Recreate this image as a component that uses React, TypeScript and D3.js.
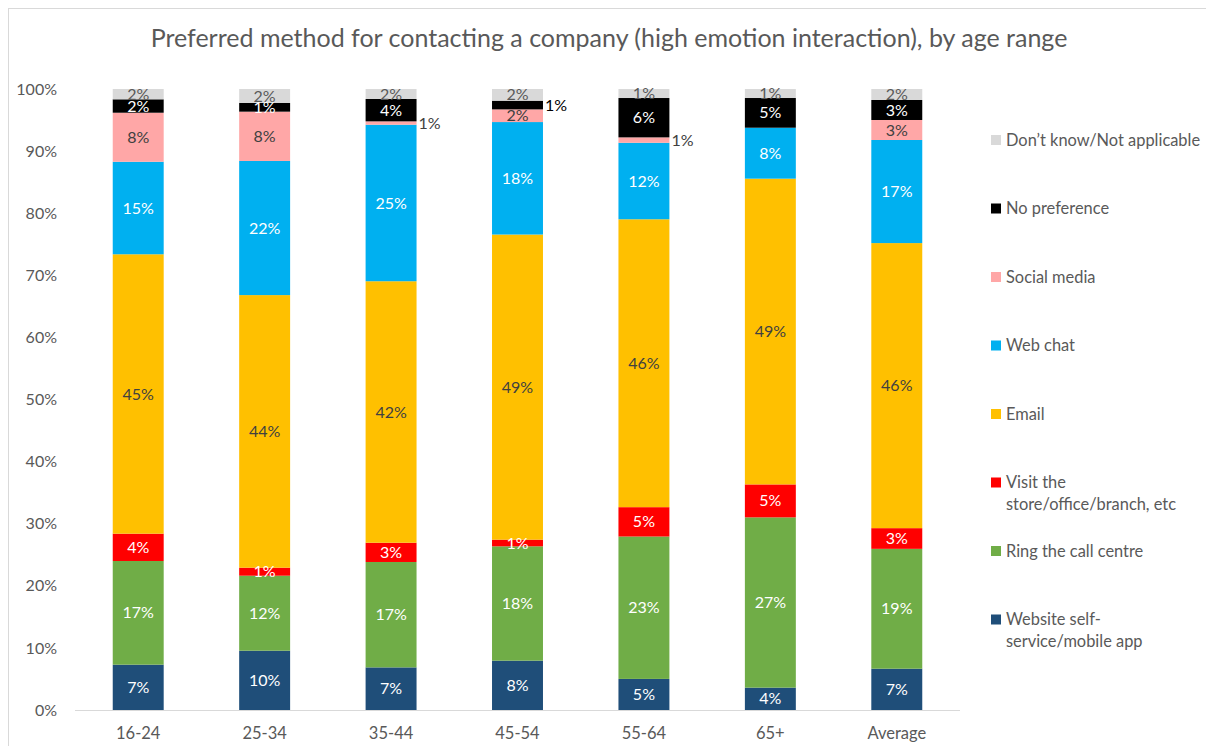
import React, { useEffect, useRef } from "react";
import * as d3 from "d3";

// age ranges along the x axis
const ageGroups = ["16-24", "25-34", "35-44", "45-54", "55-64", "65+", "Average"];

// series, bottom of the stack to top (percent of respondents)
const websiteSelfService = [7.3, 9.55, 6.86, 7.94, 5.0, 3.6, 6.65];
const ringCallCentre = [16.7, 12.08, 16.97, 18.4, 22.9, 27.4, 19.3];
const visitStore = [4.4, 1.29, 3.1, 1.07, 4.72, 5.3, 3.33];
const email = [45.0, 43.9, 42.1, 49.1, 46.3, 49.2, 45.9];
const webChat = [14.9, 21.6, 25.2, 18.1, 12.3, 8.2, 16.6];
const socialMedia = [7.9, 7.94, 0.54, 2.04, 0.87, 0, 3.22];
const noPreference = [2.16, 1.4, 3.6, 1.4, 6.33, 4.78, 3.22];
const dontKnow = [1.66, 2.25, 1.61, 1.88, 1.45, 1.45, 1.77];

const seriesNames = [
  "Website self-service/mobile app",
  "Ring the call centre",
  "Visit the store/office/branch, etc",
  "Email",
  "Web chat",
  "Social media",
  "No preference",
  "Don’t know/Not applicable",
];
const seriesValues = [websiteSelfService, ringCallCentre, visitStore, email, webChat, socialMedia, noPreference, dontKnow];

// legend text lines, top to bottom as shown
const legendLines: Record<string, string[]> = {
  "Don’t know/Not applicable": ["Don’t know/Not applicable"],
  "No preference": ["No preference"],
  "Social media": ["Social media"],
  "Web chat": ["Web chat"],
  "Email": ["Email"],
  "Visit the store/office/branch, etc": ["Visit the", "store/office/branch, etc"],
  "Ring the call centre": ["Ring the call centre"],
  "Website self-service/mobile app": ["Website self-", "service/mobile app"],
};

const yTicks = [0, 0.1, 0.2, 0.3, 0.4, 0.5, 0.6, 0.7, 0.8, 0.9, 1];

const colors = ["#1F4E79", "#70AD47", "#FF0000", "#FFC000", "#00B0F0", "#FFA7A7", "#000000", "#D9D9D9"];
const labelColors = ["#fff", "#fff", "#fff", "#404040", "#fff", "#404040", "#fff", "#595959"];

// labels that sit to the right of the bar (too thin to fit inside)
const outside = [
  { series: "Social media", group: "35-44", color: "#404040" },
  { series: "No preference", group: "45-54", color: "#000" },
  { series: "Social media", group: "55-64", color: "#404040" },
];

const FONT = "Lato, 'Open Sans', sans-serif";

export default function App() {
  const ref = useRef<SVGSVGElement>(null);

  useEffect(() => {
    const svg = d3.select(ref.current);
    svg.selectAll("*").remove();

    const left = 75, right = 960, top = 89, bottom = 710;

    const rows = ageGroups.map((g, i) => {
      const r: any = { group: g };
      seriesNames.forEach((s, j) => (r[s] = seriesValues[j][i]));
      return r;
    });

    const stacked = d3.stack().keys(seriesNames).offset(d3.stackOffsetExpand)(rows);

    const x = d3.scaleBand().domain(ageGroups).range([left, right]).paddingInner(0.597).paddingOuter(0.2985);
    const y = d3.scaleLinear().domain([0, 1]).range([bottom, top]);

    // chart frame
    svg.append("rect")
      .attr("x", 8.5).attr("y", 8.5)
      .attr("width", 1400).attr("height", 1000)
      .attr("fill", "white").attr("stroke", "#D9D9D9");

    svg.append("text")
      .attr("x", 609).attr("y", 47)
      .attr("text-anchor", "middle")
      .attr("font-size", 25).attr("fill", "#595959")
      .text("Preferred method for contacting a company (high emotion interaction), by age range");

    // y axis labels
    svg.append("g").selectAll("text")
      .data(yTicks).join("text")
      .attr("x", 57).attr("y", d => y(d))
      .attr("dy", "0.35em")
      .attr("text-anchor", "end")
      .attr("font-size", 16).attr("fill", "#595959")
      .text(d => d3.format(".0%")(d));

    // baseline
    svg.append("line")
      .attr("x1", left).attr("x2", right)
      .attr("y1", bottom + 0.5).attr("y2", bottom + 0.5)
      .attr("stroke", "#D9D9D9");

    // x axis labels
    svg.append("g").selectAll("text")
      .data(ageGroups).join("text")
      .attr("x", d => x(d)! + x.bandwidth() / 2).attr("y", 733)
      .attr("dy", "0.35em")
      .attr("text-anchor", "middle")
      .attr("font-size", 16.5).attr("fill", "#595959")
      .text(d => d);

    const layers = svg.append("g").selectAll("g")
      .data(stacked).join("g")
      .attr("fill", (d, i) => colors[i]);

    layers.selectAll("rect")
      .data(d => d.map(p => ({ p, key: d.key })))
      .join("rect")
      .attr("x", d => x(d.p.data.group as any)!)
      .attr("width", x.bandwidth())
      .attr("y", d => y(d.p[1]))
      .attr("height", d => y(d.p[0]) - y(d.p[1]));

    // data labels
    const labels = svg.append("g").attr("font-size", 16);
    stacked.forEach((layer, i) => {
      layer.forEach((p, k) => {
        const v = seriesValues[i][k];
        if (!v) return;
        const group = ageGroups[k];
        const cy = (y(p[0]) + y(p[1])) / 2;
        const out = outside.find(o => o.series === layer.key && o.group === group);
        const t = labels.append("text")
          .attr("y", cy).attr("dy", "0.35em")
          .text(Math.round(v) + "%");
        if (out) {
          t.attr("x", x(group)! + x.bandwidth() + 2).attr("text-anchor", "start").attr("fill", out.color);
        } else {
          t.attr("x", x(group)! + x.bandwidth() / 2).attr("text-anchor", "middle").attr("fill", labelColors[i]);
        }
      });
    });

    // legend
    const legendOrder = seriesNames.slice().reverse();
    const lg = svg.append("g").attr("font-size", 16.4).attr("fill", "#595959");
    legendOrder.forEach((name, i) => {
      const cy = 140 + i * 68.5;
      const ci = seriesNames.indexOf(name);
      lg.append("rect")
        .attr("x", 991).attr("y", cy - 5)
        .attr("width", 10).attr("height", 10)
        .attr("fill", colors[ci]);
      legendLines[name].forEach((line, j) => {
        lg.append("text")
          .attr("x", 1006).attr("y", cy + j * 22)
          .attr("dy", "0.35em")
          .text(line);
      });
    });
  }, []);

  return (
    <svg
      ref={ref}
      width={1206}
      height={746}
      style={{ position: "absolute", left: 0, top: 0, fontFamily: FONT }}
    />
  );
}
